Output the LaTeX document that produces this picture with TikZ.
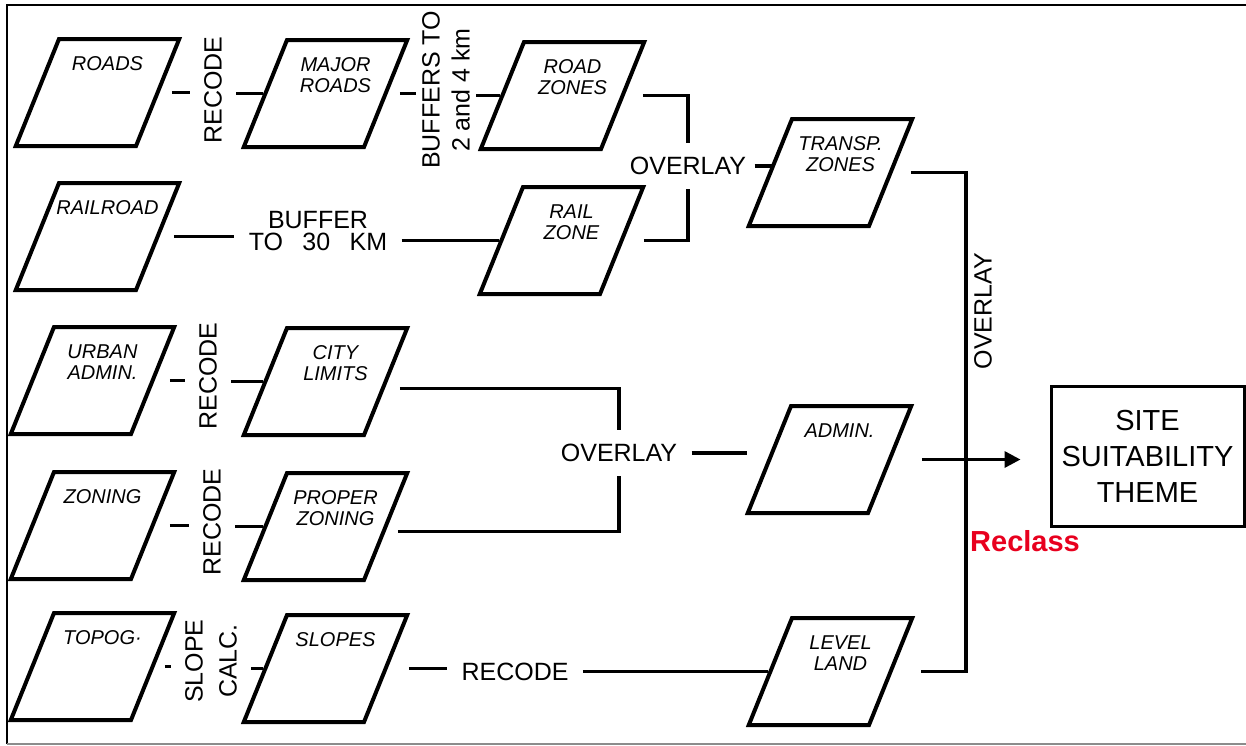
\documentclass[tikz,border=0pt]{standalone}
\usepackage{fontspec}
\setmainfont{Liberation Sans}
\usetikzlibrary{shapes.geometric,arrows.meta,positioning,calc}
\definecolor{reclassred}{RGB}{232,0,30}
\tikzset{
	layer/.style={trapezium, trapezium left angle=68, trapezium right angle=112,
		draw=black, line width=2pt, inner sep=0pt,
		text width=38.5pt, text height=26.75pt, text depth=26.75pt},
	inname/.style={anchor=north, align=center, inner sep=0pt, xshift=5pt, yshift=-9.5pt,
		font=\fontsize{10}{10.5}\selectfont\itshape},
	oplabel/.style={align=center, inner sep=7pt, font=\fontsize{12.5}{11}\selectfont},
	link/.style={line width=1.7pt},
	result/.style={rectangle, draw=black, line width=1.5pt, minimum width=96.5pt,
		minimum height=70pt, align=center, font=\fontsize{14.5}{18}\selectfont}
}
\begin{document}
\begin{tikzpicture}[x=0.5pt, y=-0.5pt]
	\useasboundingbox (0,0) rectangle (1246,745);
	\draw[line width=1pt] (7,744) -- (7,5) -- (1246,5);
	\draw[line width=1pt, black!45] (7,744) -- (1246,744);

	% map layers
	\node[layer, label={[inname]90:ROADS}] (roads) at (97.5,92.5) {};
	\node[layer, label={[inname]90:MAJOR\\ROADS}] (majroads) at (325.5,93.5) {};
	\node[layer, label={[inname]90:ROAD\\ZONES}] (roadzones) at (562.5,95.5) {};
	\node[layer, label={[inname]90:TRANSP.\\ZONES}] (transp) at (830.5,172.5) {};
	\node[layer, label={[inname]90:RAILROAD}] (railroad) at (97.5,236.5) {};
	\node[layer, label={[inname]90:RAIL\\ZONE}] (railzone) at (561.5,240.5) {};
	\node[layer, label={[inname]90:URBAN\\ADMIN.}] (urban) at (92.5,380.5) {};
	\node[layer, label={[inname]90:CITY\\LIMITS}] (city) at (325.5,381.5) {};
	\node[layer, label={[inname]90:ADMIN.}] (admin) at (829.5,459.5) {};
	\node[layer, label={[inname]90:ZONING}] (zoning) at (92.5,525.5) {};
	\node[layer, label={[inname]90:PROPER\\ZONING}] (proper) at (325.5,526.5) {};
	\node[layer, label={[inname]90:TOPOG·}] (topog) at (92.5,666.5) {};
	\node[layer, label={[inname]90:SLOPES}] (slopes) at (325.5,668.5) {};
	\node[layer, label={[inname]90:LEVEL\\LAND}] (level) at (830.5,671.5) {};
	\node[result] (site) at (1147.5,456) {SITE\\SUITABILITY\\THEME};

	% operations
	\node[oplabel, rotate=90] (rec1) at (213,90) {RECODE};
	\node[oplabel, rotate=90, inner sep=3pt, font=\fontsize{12.5}{15}\selectfont] (buf2) at (446,90) {BUFFERS TO\\2 and 4 km};
	\node[oplabel, inner xsep=4pt] (ov1) at (688,166) {OVERLAY};
	\node[oplabel] (buf1) at (318,231) {BUFFER\\TO \enspace 30 \enspace KM};
	\node[oplabel, rotate=90] (rec2) at (208,376) {RECODE};
	\node[oplabel] (ov2) at (619,453) {OVERLAY};
	\node[oplabel, rotate=90] (rec3) at (212,522) {RECODE};
	\node[oplabel, rotate=90, font=\fontsize{12.5}{17}\selectfont] (slc) at (211,661) {SLOPE\\CALC.};
	\node[oplabel] (rec4) at (515,672) {RECODE};
	\node[oplabel, rotate=90] (ov3) at (983,311) {OVERLAY};
	\node[font=\fontsize{14.5}{16}\selectfont\bfseries, text=reclassred] (reclass) at (1025,541) {Reclass};
	\coordinate (bk) at (966,420);

	% connectors
	\draw[link, shorten <=6pt] (roads.right side) -- (roads.right side -| rec1.north);
	\draw[link] (rec1.south |- majroads.left side) -- (majroads.left side);
	\draw[link, shorten <=6pt] (majroads.right side) -- (majroads.right side -| buf2.north);
	\draw[link] (buf2.south |- roadzones.left side) -- (roadzones.left side);
	\draw[link, shorten <=9pt] (roadzones.right side) -| (ov1.north);
	\draw[link, shorten <=10pt] (railzone.right side) -| (ov1.south);
	\draw[link, shorten >=-2.5pt] (ov1.east) -- (ov1.east -| transp.left side);
	\draw[link, shorten <=7pt] (railroad.right side) -- (railroad.right side -| buf1.west);
	\draw[link] (buf1.east |- railzone.left side) -- (railzone.left side);
	\draw[link, shorten <=7.5pt] (urban.right side) -- (urban.right side -| rec2.north);
	\draw[link] (rec2.south |- city.left side) -- (city.left side);
	\draw[link, shorten <=6pt] ([yshift=-3.5pt]city.right side) -| (ov2.north);
	\draw[link, shorten <=5pt] ([yshift=-2.5pt]proper.right side) -| (ov2.south);
	\draw[link, shorten >=10pt] (ov2.east) -- (ov2.east -| admin.left side);
	\draw[link, shorten <=7.5pt] (zoning.right side) -- (zoning.right side -| rec3.north);
	\draw[link] (rec3.south |- proper.left side) -- (proper.left side);
	\draw[link, shorten <=5pt] (topog.right side) -- (topog.right side -| slc.north);
	\draw[link] (slc.south |- slopes.left side) -- (slopes.left side);
	\draw[link, shorten <=10.5pt] (slopes.right side) -- (slopes.right side -| rec4.west);
	\draw[link] (rec4.east |- level.left side) -- (level.left side);
	\draw[link, shorten <=9pt, shorten >=14pt] (transp.right side) -| (bk) |- (level.right side);
	\draw[link, -{Triangle[length=8pt, width=8pt]}, shorten <=15pt, shorten >=14.5pt] (admin.right side) -- (admin.right side -| site.west);
\end{tikzpicture}
\end{document}
